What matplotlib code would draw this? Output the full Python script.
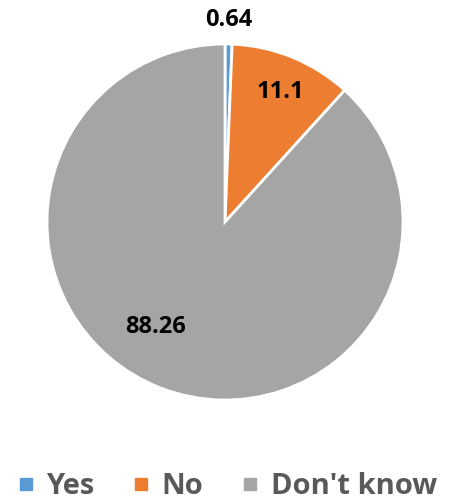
import matplotlib
matplotlib.use("Agg")
import matplotlib.pyplot as plt
from matplotlib.lines import Line2D

categories = ["Yes", "No", "Don't know"]
values = [0.64, 11.1, 88.26]
value_labels = ["0.64", "11.1", "88.26"]
colors = ["#5B9BD5", "#ED7D31", "#A5A5A5"]

plt.rcParams['font.family'] = ['Open Sans', 'DejaVu Sans']

fig = plt.figure(figsize=(4.51, 5.03), dpi=100)
W, H = 451, 503
cx, cy, r = 225, 222, 178
ax = fig.add_axes([(cx - r) / W, (H - cy - r) / H, 2 * r / W, 2 * r / H])
wedges, _ = ax.pie(values, colors=colors, startangle=90, counterclock=False,
                   wedgeprops=dict(edgecolor="white", linewidth=2), radius=1.0)
ax.set_xlim(-1, 1)
ax.set_ylim(-1, 1)
ax.set_aspect("equal")
ax.axis("off")

label_pos = [(0.02, 1.135), (0.31, 0.73), (-0.39, -0.59)]
for (x, y), t in zip(label_pos, value_labels):
    ax.text(x, y, t, ha="center", va="center", fontsize=17, fontweight="bold",
            color="black", clip_on=False)

handles = [Line2D([0], [0], marker="s", linestyle="none", markersize=8,
                  markerfacecolor=c, markeredgecolor=c) for c in colors]
leg = fig.legend(handles, categories, loc="center", bbox_to_anchor=(0.5, 1 - 487 / H),
                 ncol=3, frameon=False, handletextpad=0.3, columnspacing=1.2,
                 prop=dict(size=21, weight="bold"), handlelength=0.8)
for t in leg.get_texts():
    t.set_color("#595959")

fig.savefig("out.png", dpi=100)
